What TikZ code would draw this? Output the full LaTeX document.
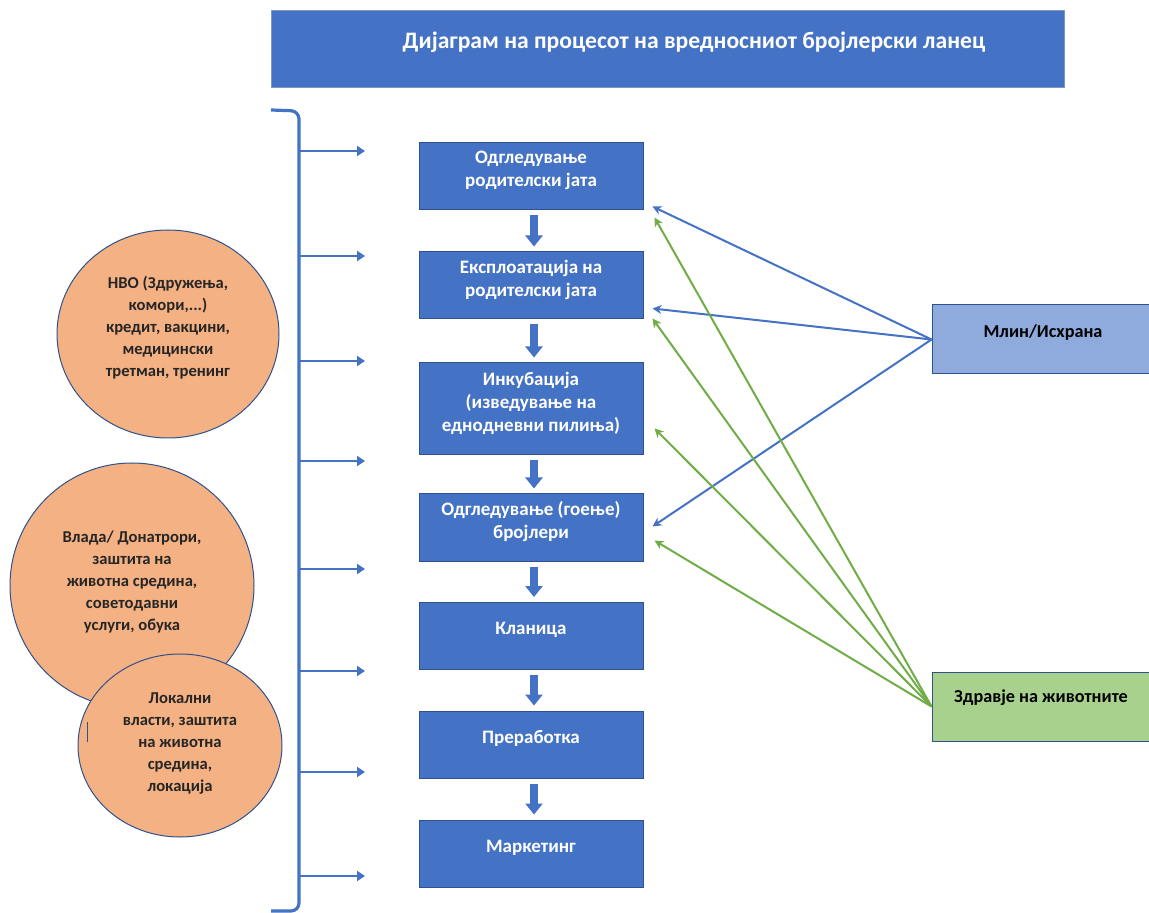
\documentclass[tikz,border=0pt]{standalone}
\usepackage{fontspec}
\setmainfont{Carlito}
\usetikzlibrary{arrows.meta,calc,shapes.geometric}
\definecolor{mblue}{HTML}{4472C4}
\definecolor{dblue}{HTML}{2F528F}
\definecolor{lblue}{HTML}{8FAADC}
\definecolor{lgreen}{HTML}{A9D18E}
\definecolor{agreen}{HTML}{70AD47}
\definecolor{orng}{HTML}{F4B183}
\definecolor{txtgray}{HTML}{262626}
\begin{document}
\begin{tikzpicture}[x=0.5pt,y=-0.5pt,
  mainbox/.style={draw=dblue, line width=0.5pt, fill=mblue, minimum width=112pt, minimum height=33.5pt, inner sep=0pt},
  boxtext/.style={text=white, font=\bfseries\fontsize{9.5}{11.5}\selectfont, align=center, yshift=3pt},
  flowarrow/.style={draw=mblue, line width=4pt, -{Triangle[length=5.5pt,width=8.5pt]}},
  circ/.style={ellipse, draw=dblue, line width=0.5pt, fill=orng, inner sep=0pt},
  circtext/.style={text=txtgray, font=\bfseries\fontsize{8.3}{11}\selectfont, align=center},
  sidebox/.style={draw=dblue, line width=0.5pt, minimum width=109pt, minimum height=34.5pt, inner sep=0pt},
  sidetext/.style={text=black, font=\bfseries\fontsize{9.1}{11}\selectfont, align=center},
  bluearrow/.style={draw=mblue, line width=1pt, -{Stealth[length=4.5pt,width=4.5pt]}},
  greenarrow/.style={draw=agreen, line width=1pt, -{Stealth[length=4.5pt,width=4.5pt]}},
  brarrow/.style={draw=mblue, line width=0.9pt, -{Triangle[length=4pt,width=5pt]}}
]
\useasboundingbox (0,0) rectangle (1149,913);

% title
\node[draw=dblue!60!white, line width=0.4pt, fill=mblue, minimum width=396.5pt, minimum height=38.5pt, inner sep=0pt] (title) at (667.5,48.5) {};
\node[text=white, font=\bfseries\fontsize{11.8}{13}\selectfont, anchor=center] (titletext) at (694,42) {Дијаграм на процесот на вредносниот бројлерски ланец};

% main column
\node[mainbox, label={[boxtext, name=t1]center:Одгледување\\родителски јата}] (b1) at (531,176.5) {};
\node[mainbox, label={[boxtext, name=t2]center:Експлоатација на\\родителски јата}] (b2) at (531,285.5) {};
\node[mainbox, minimum height=46pt, label={[boxtext, name=t3]center:Инкубација\\(изведување на\\еднодневни пилиња)}] (b3) at (531,409) {};
\node[mainbox, label={[boxtext, name=t4]center:Одгледување (гоење)\\бројлери}] (b4) at (531,527.5) {};
\node[mainbox, label={[boxtext, name=t5]center:Кланица}] (b5) at (531,636) {};
\node[mainbox, label={[boxtext, name=t6]center:Преработка}] (b6) at (531,744.5) {};
\node[mainbox, label={[boxtext, name=t7]center:Маркетинг}] (b7) at (531,853.5) {};

\foreach \a/\b in {b1/b2,b2/b3,b3/b4,b4/b5,b5/b6,b6/b7}{
  \draw[flowarrow] ($(\a.south)+(3,5)$) -- ($(\b.north)+(3,-5)$);
}

% circles
\node[circ, minimum width=111pt, minimum height=104pt, label={[circtext, name=c1t, yshift=3pt]center:НВО (Здружења,\\комори,...)\\кредит, вакцини,\\медицински\\третман, тренинг}] (c1) at (168,334) {};
\node[circ, minimum width=122pt, minimum height=122.5pt, label={[circtext, name=c2t, yshift=2pt]center:Влада/ Донатрори,\\заштита на\\животна средина,\\советодавни\\услуги, обука}] (c2) at (132,585.5) {};
\node[circ, minimum width=102pt, minimum height=91.5pt, label={[circtext, name=c3t, yshift=1pt]center:Локални\\власти, заштита\\на животна\\средина,\\локација}] (c3) at (180,745.5) {};
\draw[dblue, line width=0.5pt] (87,722) -- (87,742);

% bracket
\coordinate (brtop) at (271,110);
\coordinate (brbot) at (271,911);
\draw[mblue, line width=1.6pt, rounded corners=4pt] (brtop) -- (299,111) -- (299,911) -- (brbot);
\foreach \y [count=\i] in {151,256,361,461,569,671,772,876}{
  \coordinate (bs\i) at (299,\y);
  \coordinate (be\i) at (365,\y);
  \draw[brarrow] (bs\i) -- (be\i);
}

% side boxes
\node[sidebox, fill=lblue, label={[sidetext, name=mlint, yshift=3.25pt, xshift=1pt]center:Млин/Исхрана}] (mlin) at (1041,339.5) {};
\node[sidebox, fill=lgreen, label={[sidetext, name=zdt, yshift=4.25pt]center:Здравје на животните}] (zdr) at (1041,706.5) {};

% connectors
\draw[bluearrow] (mlin.west) -- ($(b1.south east)+(9,-4)$);
\draw[bluearrow] (mlin.west) -- ($(b2.south east)+(9,-11)$);
\draw[bluearrow] (mlin.west) -- ($(b4.south east)+(9,-35)$);
\draw[greenarrow] (zdr.west) -- ($(b1.south east)+(11,7)$);
\draw[greenarrow] (zdr.west) -- ($(b2.south east)+(9,-1)$);
\draw[greenarrow] (zdr.west) -- ($(b3.south east)+(11,-27)$);
\draw[greenarrow] (zdr.west) -- ($(b4.south east)+(11,-21)$);
\end{tikzpicture}
\end{document}
